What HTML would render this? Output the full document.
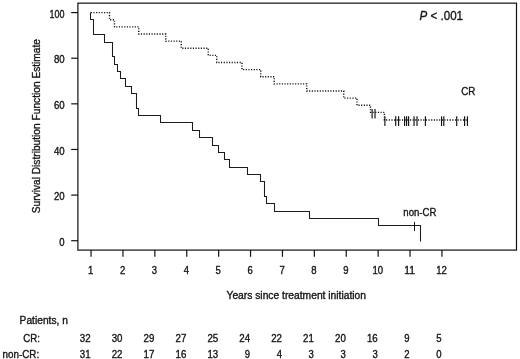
<!DOCTYPE html><html><head><meta charset="utf-8"><title>Survival</title><style>html,body{margin:0;padding:0;background:#fff}svg{display:block;will-change:transform}text{font-family:"Liberation Sans",sans-serif;fill:#151515;stroke:#151515;stroke-width:0.35px}</style></head><body>
<svg width="520" height="359" viewBox="0 0 520 359">
<rect width="520" height="359" fill="#fff"/>
<rect x="77.9" y="3.15" width="438.6" height="246.95" fill="none" stroke="#111" stroke-width="1.2"/>
<line x1="71.2" x2="77.9" y1="240.70" y2="240.70" stroke="#111" stroke-width="1.2"/>
<text x="64.6" y="245.90" font-size="10.3" text-anchor="end" textLength="5.3" lengthAdjust="spacingAndGlyphs">0</text>
<line x1="71.2" x2="77.9" y1="195.08" y2="195.08" stroke="#111" stroke-width="1.2"/>
<text x="64.6" y="200.28" font-size="10.3" text-anchor="end" textLength="10.7" lengthAdjust="spacingAndGlyphs">20</text>
<line x1="71.2" x2="77.9" y1="149.46" y2="149.46" stroke="#111" stroke-width="1.2"/>
<text x="64.6" y="154.66" font-size="10.3" text-anchor="end" textLength="10.7" lengthAdjust="spacingAndGlyphs">40</text>
<line x1="71.2" x2="77.9" y1="103.84" y2="103.84" stroke="#111" stroke-width="1.2"/>
<text x="64.6" y="109.04" font-size="10.3" text-anchor="end" textLength="10.7" lengthAdjust="spacingAndGlyphs">60</text>
<line x1="71.2" x2="77.9" y1="58.22" y2="58.22" stroke="#111" stroke-width="1.2"/>
<text x="64.6" y="63.42" font-size="10.3" text-anchor="end" textLength="10.7" lengthAdjust="spacingAndGlyphs">80</text>
<line x1="71.2" x2="77.9" y1="12.60" y2="12.60" stroke="#111" stroke-width="1.2"/>
<text x="64.6" y="17.80" font-size="10.3" text-anchor="end" textLength="15.0" lengthAdjust="spacingAndGlyphs">100</text>
<line x1="91.05" x2="91.05" y1="250.1" y2="256.8" stroke="#111" stroke-width="1.2"/>
<text x="90.65" y="274.3" font-size="10.3" text-anchor="middle" textLength="5.3" lengthAdjust="spacingAndGlyphs">1</text>
<line x1="122.95" x2="122.95" y1="250.1" y2="256.8" stroke="#111" stroke-width="1.2"/>
<text x="122.55" y="274.3" font-size="10.3" text-anchor="middle" textLength="5.3" lengthAdjust="spacingAndGlyphs">2</text>
<line x1="154.85" x2="154.85" y1="250.1" y2="256.8" stroke="#111" stroke-width="1.2"/>
<text x="154.45" y="274.3" font-size="10.3" text-anchor="middle" textLength="5.3" lengthAdjust="spacingAndGlyphs">3</text>
<line x1="186.75" x2="186.75" y1="250.1" y2="256.8" stroke="#111" stroke-width="1.2"/>
<text x="186.35" y="274.3" font-size="10.3" text-anchor="middle" textLength="5.3" lengthAdjust="spacingAndGlyphs">4</text>
<line x1="218.65" x2="218.65" y1="250.1" y2="256.8" stroke="#111" stroke-width="1.2"/>
<text x="218.25" y="274.3" font-size="10.3" text-anchor="middle" textLength="5.3" lengthAdjust="spacingAndGlyphs">5</text>
<line x1="250.55" x2="250.55" y1="250.1" y2="256.8" stroke="#111" stroke-width="1.2"/>
<text x="250.15" y="274.3" font-size="10.3" text-anchor="middle" textLength="5.3" lengthAdjust="spacingAndGlyphs">6</text>
<line x1="282.45" x2="282.45" y1="250.1" y2="256.8" stroke="#111" stroke-width="1.2"/>
<text x="282.05" y="274.3" font-size="10.3" text-anchor="middle" textLength="5.3" lengthAdjust="spacingAndGlyphs">7</text>
<line x1="314.35" x2="314.35" y1="250.1" y2="256.8" stroke="#111" stroke-width="1.2"/>
<text x="313.95" y="274.3" font-size="10.3" text-anchor="middle" textLength="5.3" lengthAdjust="spacingAndGlyphs">8</text>
<line x1="346.25" x2="346.25" y1="250.1" y2="256.8" stroke="#111" stroke-width="1.2"/>
<text x="345.85" y="274.3" font-size="10.3" text-anchor="middle" textLength="5.3" lengthAdjust="spacingAndGlyphs">9</text>
<line x1="378.15" x2="378.15" y1="250.1" y2="256.8" stroke="#111" stroke-width="1.2"/>
<text x="377.75" y="274.3" font-size="10.3" text-anchor="middle" textLength="10.7" lengthAdjust="spacingAndGlyphs">10</text>
<line x1="410.05" x2="410.05" y1="250.1" y2="256.8" stroke="#111" stroke-width="1.2"/>
<text x="409.65" y="274.3" font-size="10.3" text-anchor="middle" textLength="10.7" lengthAdjust="spacingAndGlyphs">11</text>
<line x1="441.95" x2="441.95" y1="250.1" y2="256.8" stroke="#111" stroke-width="1.2"/>
<text x="441.55" y="274.3" font-size="10.3" text-anchor="middle" textLength="10.7" lengthAdjust="spacingAndGlyphs">12</text>
<path d="M90.50 12.50 L90.50 19.50 L93.50 19.50 L93.50 34.50 L104.50 34.50 L104.50 42.50 L112.50 42.50 L112.50 56.50 L114.50 56.50 L114.50 64.50 L117.50 64.50 L117.50 71.50 L120.50 71.50 L120.50 78.50 L125.50 78.50 L125.50 86.50 L131.50 86.50 L131.50 93.50 L136.50 93.50 L136.50 108.50 L138.50 108.50 L138.50 115.50 L160.50 115.50 L160.50 122.50 L192.50 122.50 L192.50 130.50 L199.50 130.50 L199.50 137.50 L212.50 137.50 L212.50 145.50 L218.50 145.50 L218.50 152.50 L224.50 152.50 L224.50 159.50 L229.50 159.50 L229.50 167.50 L247.50 167.50 L247.50 174.50 L260.50 174.50 L260.50 181.50 L264.50 181.50 L264.50 196.50 L266.50 196.50 L266.50 203.50 L274.50 203.50 L274.50 211.50 L309.50 211.50 L309.50 218.50 L378.50 218.50 L378.50 225.50 L420.50 225.50 L420.50 241.50" fill="none" stroke="#1c1c1c" stroke-width="1.05"/>
<path d="M90.75 12.60 L109.50 12.60 L109.50 19.73 L114.50 19.73 L114.50 26.86 L138.75 26.86 L138.75 33.98 L165.75 33.98 L165.75 41.11 L181.25 41.11 L181.25 48.24 L208.25 48.24 L208.25 55.37 L216.75 55.37 L216.75 62.50 L242.00 62.50 L242.00 69.62 L260.75 69.62 L260.75 76.75 L274.25 76.75 L274.25 83.88 L306.75 83.88 L306.75 91.01 L343.75 91.01 L343.75 98.14 L357.00 98.14 L357.00 105.27 L370.50 105.27 L370.50 112.39 L384.40 112.39 L384.40 120.07 L467.60 120.07" fill="none" stroke="#111" stroke-width="1.4" stroke-dasharray="1.15 1.5"/>
<line x1="372.10" x2="372.10" y1="109.1" y2="118.6" stroke="#111" stroke-width="1.15"/>
<line x1="375.00" x2="375.00" y1="109.1" y2="118.6" stroke="#111" stroke-width="1.15"/>
<line x1="384.90" x2="384.90" y1="116.3" y2="126.0" stroke="#111" stroke-width="1.15"/>
<line x1="395.70" x2="395.70" y1="116.3" y2="126.0" stroke="#111" stroke-width="1.15"/>
<line x1="398.60" x2="398.60" y1="116.3" y2="126.0" stroke="#111" stroke-width="1.15"/>
<line x1="404.60" x2="404.60" y1="116.3" y2="126.0" stroke="#111" stroke-width="1.15"/>
<line x1="406.60" x2="406.60" y1="116.3" y2="126.0" stroke="#111" stroke-width="1.15"/>
<line x1="408.60" x2="408.60" y1="116.3" y2="126.0" stroke="#111" stroke-width="1.15"/>
<line x1="414.10" x2="414.10" y1="116.3" y2="126.0" stroke="#111" stroke-width="1.15"/>
<line x1="417.00" x2="417.00" y1="116.3" y2="126.0" stroke="#111" stroke-width="1.15"/>
<line x1="425.40" x2="425.40" y1="116.3" y2="126.0" stroke="#111" stroke-width="1.15"/>
<line x1="441.55" x2="441.55" y1="116.3" y2="126.0" stroke="#111" stroke-width="1.15"/>
<line x1="443.80" x2="443.80" y1="116.3" y2="126.0" stroke="#111" stroke-width="1.15"/>
<line x1="456.70" x2="456.70" y1="116.3" y2="126.0" stroke="#111" stroke-width="1.15"/>
<line x1="464.60" x2="464.60" y1="116.3" y2="126.0" stroke="#111" stroke-width="1.15"/>
<line x1="467.45" x2="467.45" y1="116.3" y2="126.0" stroke="#111" stroke-width="1.15"/>
<line x1="414.5" x2="414.5" y1="221.9" y2="230.9" stroke="#111" stroke-width="1.05"/>
<text x="419.60" y="20.00" font-size="12.6" textLength="43.40" lengthAdjust="spacingAndGlyphs"><tspan font-style="italic">P</tspan> &lt; .001</text>
<text x="461.30" y="95.10" font-size="10" textLength="14.10" lengthAdjust="spacingAndGlyphs">CR</text>
<text x="403.30" y="215.75" font-size="10" textLength="33.10" lengthAdjust="spacingAndGlyphs">non-CR</text>
<text x="226.50" y="298.50" font-size="10.2" textLength="139.50" lengthAdjust="spacingAndGlyphs">Years since treatment initiation</text>
<text transform="translate(40.1 213.3) rotate(-90)" font-size="10.2" textLength="174.3" lengthAdjust="spacingAndGlyphs">Survival Distribution Function Estimate</text>
<text x="19.60" y="323.75" font-size="10.2" textLength="48.30" lengthAdjust="spacingAndGlyphs">Patients, n</text>
<text x="23.30" y="341.75" font-size="10.2" textLength="16.60" lengthAdjust="spacingAndGlyphs">CR:</text>
<text x="2.60" y="357.50" font-size="10.2" textLength="36.60" lengthAdjust="spacingAndGlyphs">non-CR:</text>
<text x="90.60" y="341.75" font-size="10.5" text-anchor="end" textLength="10.8" lengthAdjust="spacingAndGlyphs">32</text>
<text x="90.60" y="357.70" font-size="10.5" text-anchor="end" textLength="10.8" lengthAdjust="spacingAndGlyphs">31</text>
<text x="122.50" y="341.75" font-size="10.5" text-anchor="end" textLength="10.8" lengthAdjust="spacingAndGlyphs">30</text>
<text x="122.50" y="357.70" font-size="10.5" text-anchor="end" textLength="10.8" lengthAdjust="spacingAndGlyphs">22</text>
<text x="154.40" y="341.75" font-size="10.5" text-anchor="end" textLength="10.8" lengthAdjust="spacingAndGlyphs">29</text>
<text x="154.40" y="357.70" font-size="10.5" text-anchor="end" textLength="10.8" lengthAdjust="spacingAndGlyphs">17</text>
<text x="186.30" y="341.75" font-size="10.5" text-anchor="end" textLength="10.8" lengthAdjust="spacingAndGlyphs">27</text>
<text x="186.30" y="357.70" font-size="10.5" text-anchor="end" textLength="10.8" lengthAdjust="spacingAndGlyphs">16</text>
<text x="218.20" y="341.75" font-size="10.5" text-anchor="end" textLength="10.8" lengthAdjust="spacingAndGlyphs">25</text>
<text x="218.20" y="357.70" font-size="10.5" text-anchor="end" textLength="10.8" lengthAdjust="spacingAndGlyphs">13</text>
<text x="250.10" y="341.75" font-size="10.5" text-anchor="end" textLength="10.8" lengthAdjust="spacingAndGlyphs">24</text>
<text x="250.10" y="357.70" font-size="10.5" text-anchor="end" textLength="5.3" lengthAdjust="spacingAndGlyphs">9</text>
<text x="282.00" y="341.75" font-size="10.5" text-anchor="end" textLength="10.8" lengthAdjust="spacingAndGlyphs">22</text>
<text x="282.00" y="357.70" font-size="10.5" text-anchor="end" textLength="5.3" lengthAdjust="spacingAndGlyphs">4</text>
<text x="313.90" y="341.75" font-size="10.5" text-anchor="end" textLength="10.8" lengthAdjust="spacingAndGlyphs">21</text>
<text x="313.90" y="357.70" font-size="10.5" text-anchor="end" textLength="5.3" lengthAdjust="spacingAndGlyphs">3</text>
<text x="345.80" y="341.75" font-size="10.5" text-anchor="end" textLength="10.8" lengthAdjust="spacingAndGlyphs">20</text>
<text x="345.80" y="357.70" font-size="10.5" text-anchor="end" textLength="5.3" lengthAdjust="spacingAndGlyphs">3</text>
<text x="377.70" y="341.75" font-size="10.5" text-anchor="end" textLength="10.8" lengthAdjust="spacingAndGlyphs">16</text>
<text x="377.70" y="357.70" font-size="10.5" text-anchor="end" textLength="5.3" lengthAdjust="spacingAndGlyphs">3</text>
<text x="409.60" y="341.75" font-size="10.5" text-anchor="end" textLength="5.3" lengthAdjust="spacingAndGlyphs">9</text>
<text x="409.60" y="357.70" font-size="10.5" text-anchor="end" textLength="5.3" lengthAdjust="spacingAndGlyphs">2</text>
<text x="441.50" y="341.75" font-size="10.5" text-anchor="end" textLength="5.3" lengthAdjust="spacingAndGlyphs">5</text>
<text x="441.50" y="357.70" font-size="10.5" text-anchor="end" textLength="5.3" lengthAdjust="spacingAndGlyphs">0</text>
</svg></body></html>
